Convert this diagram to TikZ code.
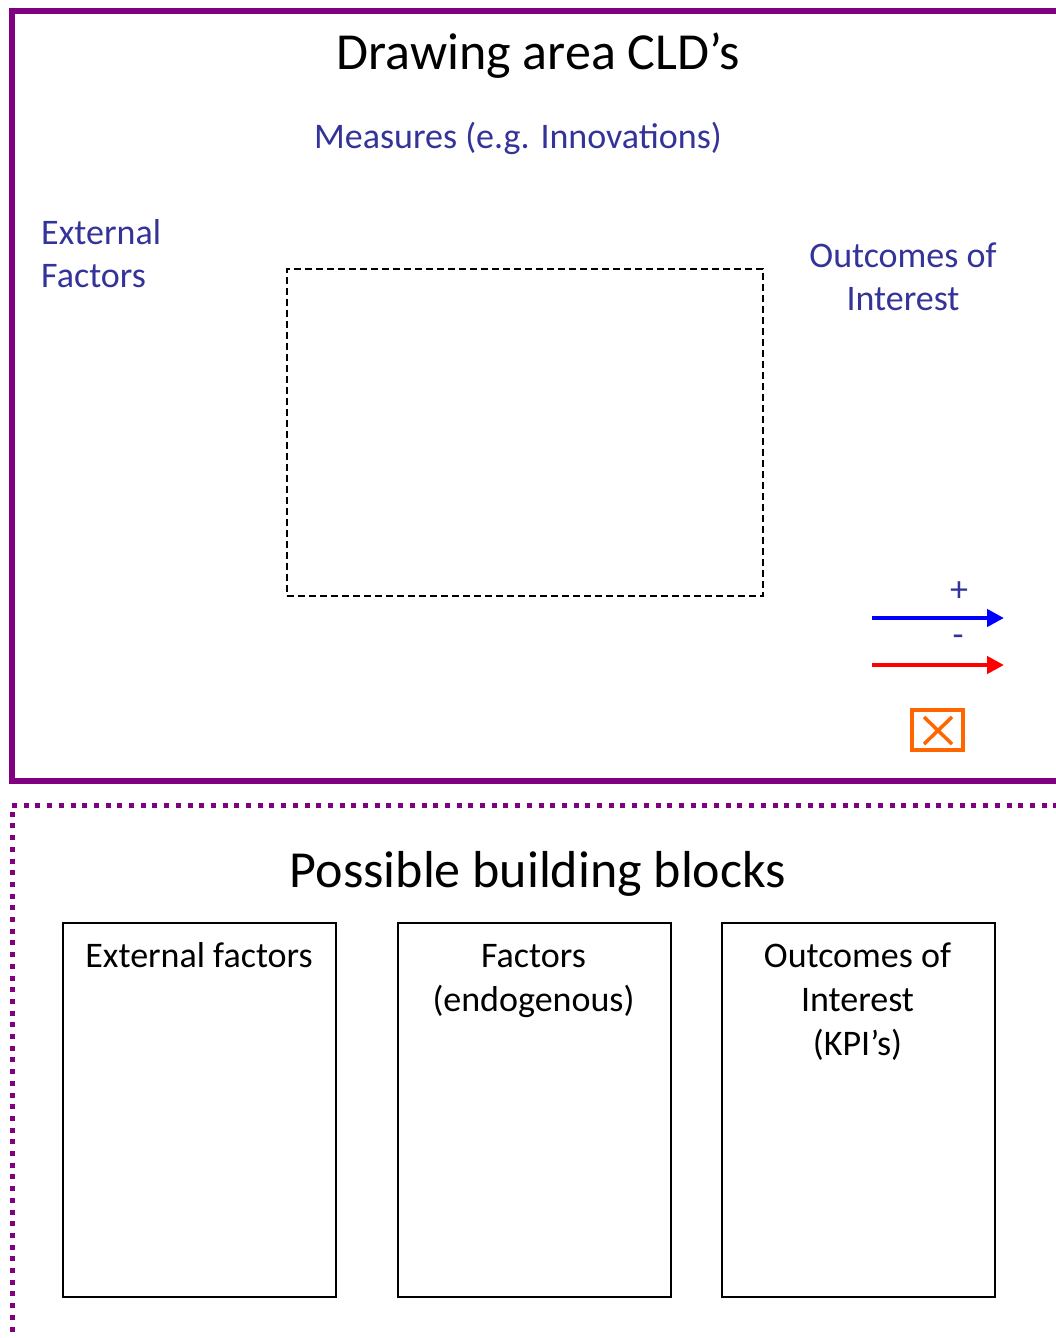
\documentclass[tikz,border=0pt]{standalone}
\usepackage{fontspec}
\setmainfont{Carlito}
\usetikzlibrary{arrows.meta}
\definecolor{frame}{HTML}{800080}
\definecolor{lbl}{HTML}{333399}
\definecolor{orng}{HTML}{FF6600}
\tikzset{
  bigtitle/.style={font=\fontsize{52}{60}\selectfont, anchor=base, inner sep=0pt},
  bluelbl/.style={font=\fontsize{36}{43}\selectfont, text=lbl, anchor=base, inner sep=0pt},
  blocklbl/.style={font=\fontsize{36}{44}\selectfont, anchor=base, inner sep=0pt, align=center},
  blockbox/.style={draw, line width=2pt, minimum width=273pt, minimum height=374pt, inner sep=0pt, anchor=north west},
  linkarrow/.style={line width=4.5pt, -{Triangle[length=17pt,width=17pt]}},
}
\begin{document}
\begin{tikzpicture}[x=1pt,y=-1pt]
\useasboundingbox (0,0) rectangle (1056,1338);
% drawing area frame
\draw[frame, line width=6pt] (1070,11) -- (12,11) -- (12,781) -- (1070,781);
% building blocks frame
\draw[frame, line width=5pt, dash pattern=on 5pt off 6.7pt] (1070,805) -- (12,805) -- (12,1350);
\node[bigtitle] (title) at (538,70) {Drawing area CLD’s};
\node[bluelbl] (measures) at (518,148) {Measures (e.g. Innovations)};
% multi-line nodes: anchor base is the baseline of the last line
\node[bluelbl, anchor=base west, align=left] (ext) at (41,287) {External\\Factors};
\node[bluelbl, align=center] (out) at (903,310) {Outcomes of\\Interest};
\node[draw, line width=1.5pt, dash pattern=on 7pt off 4pt, minimum width=476pt, minimum height=327pt, anchor=north west, inner sep=0pt] (area) at (286,268) {};
% legend
\coordinate (b1) at (872,618);
\coordinate (b2) at (1004,618);
\coordinate (r1) at (872,665);
\coordinate (r2) at (1004,665);
\draw[linkarrow, blue] (b1) -- (b2);
\draw[linkarrow, red] (r1) -- (r2);
\node[bluelbl, font=\fontsize{36}{40}\selectfont] (plus) at (959,601) {+};
\node[bluelbl, font=\fontsize{36}{40}\selectfont] (minus) at (958,646) {-};
\node[draw=orng, line width=4pt, minimum width=51pt, minimum height=40pt, inner sep=0pt] (xbox) at (937.5,730) {};
\draw[orng, line width=3.5pt] (924,717) -- (952,744) (952,717) -- (924,744);
% building blocks
\node[bigtitle] (pbb) at (538,887) {Possible building blocks};
\node[blockbox] (blk1) at (62,922) {};
\node[blockbox] (blk2) at (397,922) {};
\node[blockbox] (blk3) at (721,922) {};
\node[blocklbl] (t1) at (199,967) {External factors};
\node[blocklbl] (t2) at (533.5,1011) {Factors\\(endogenous)};
\node[blocklbl] (t3) at (857.5,1055) {Outcomes of\\Interest\\(KPI’s)};
\end{tikzpicture}
\end{document}
